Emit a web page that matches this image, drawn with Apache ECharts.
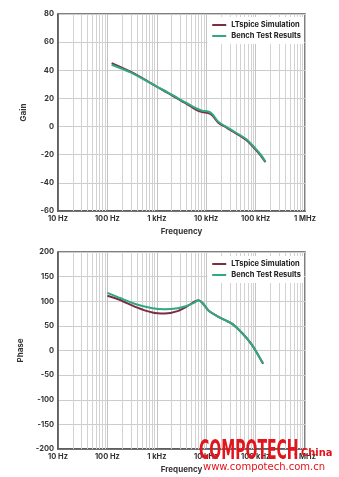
<!DOCTYPE html>
<html>
<head>
<meta charset="utf-8">
<script src="https://cdn.jsdelivr.net/npm/echarts@6/dist/echarts.min.js"></script>
<style>
html,body{margin:0;padding:0;background:#fff;}
#c{width:339px;height:477px;}
</style>
</head>
<body>
<div id="c"></div>
<script>
// ---- data ----
var seriesNames = ['LTspice Simulation', 'Bench Test Results'];
var xTickValues = [10, 100, 1000, 10000, 100000, 1000000];
var xTickLabels = ['10 Hz', '100 Hz', '1 kHz', '10 kHz', '100 kHz', '1 MHz'];

var gainFreq  = [122, 293, 631, 1000, 1660, 2630, 3310, 4170, 6030, 8300, 10960, 13200, 17800, 25900, 36600, 66300, 95700, 126000, 158000];
var gainSim   = [45.1, 39.0, 32.5, 28.3, 24.0, 19.9, 17.8, 15.8, 12.3, 10.3, 9.6, 8.0, 2.6, -0.8, -4.0, -9.8, -15.6, -20.4, -25.3];
var gainBench = [43.9, 38.5, 32.3, 28.4, 24.3, 20.3, 18.3, 16.4, 13.2, 11.3, 10.7, 9.0, 3.2, -0.3, -3.5, -9.2, -15.0, -19.8, -24.8];

var phaseFreq  = [100, 176, 379, 815, 1445, 2630, 4170, 5750, 6920, 8320, 11400, 16000, 24800, 33800, 53800, 83800, 117000, 142000];
var phaseSim   = [111, 103, 88, 77, 75, 80, 90, 99, 102, 97, 80, 71, 61, 54, 35, 12, -12, -27];
var phaseBench = [117, 107, 94, 86, 84, 86, 91, 97, 102, 97, 80, 71, 61, 54, 35, 12, -12, -26];

var gainTicks = {min: -60, max: 80, interval: 20};
var phaseTicks = {min: -200, max: 200, interval: 50};

// ---- styling ----
var colSim = '#7e2c40';
var colBench = '#2ea984';
var font = 'Inter, "Noto Sans", sans-serif';
var txt = '#333';

function pairs(xs, ys){ return xs.map(function(x,i){ return [x, ys[i]]; }); }
function fmtX(v){
  for (var i=0;i<xTickValues.length;i++){ if (Math.abs(v - xTickValues[i]) < 1e-6*xTickValues[i]) return xTickLabels[i]; }
  return '';
}
// minor log gridline positions (2..9 x each decade)
var minorGrid = [];
for (var d=0; d<xTickValues.length-1; d++){
  for (var k=2;k<=9;k++) minorGrid.push({xAxis: xTickValues[d]*k});
}

function xAxisCfg(idx){
  return {
    type:'log', logBase:10, gridIndex: idx, min: xTickValues[0], max: xTickValues[xTickValues.length-1],
    name:'Frequency', nameLocation:'middle', nameGap:17,
    nameTextStyle:{color:txt, fontFamily:font, fontWeight:'bold', fontSize:8},
    axisLine:{show:true, onZero:false, lineStyle:{color:'#555', width:1.5}},
    axisTick:{show:false},
    axisLabel:{color:txt, fontFamily:font, fontWeight:'bold', fontSize:7.5, margin:4, formatter: fmtX, showMinLabel:true, showMaxLabel:true},
    splitLine:{show:true, lineStyle:{color:'#c4c4c4', width:1}}
  };
}
function yAxisCfg(idx, name, t){
  return {
    type:'value', gridIndex: idx, min:t.min, max:t.max, interval:t.interval,
    name:name, nameLocation:'middle', nameGap:30, nameRotate:90,
    nameTextStyle:{color:txt, fontFamily:font, fontWeight:'bold', fontSize:8},
    axisLine:{show:true, onZero:false, lineStyle:{color:'#555', width:1.5}},
    axisTick:{show:false},
    axisLabel:{color:txt, fontFamily:font, fontWeight:'bold', fontSize:7.5, margin:4},
    splitLine:{show:true, lineStyle:{color:'#cccccc', width:1}}
  };
}
function gridSeries(idx){
  return {
    type:'line', xAxisIndex:idx, yAxisIndex:idx, data:[], z:1, silent:true,
    markLine:{z:1, silent:true, symbol:'none', label:{show:false}, animation:false,
      lineStyle:{color:'#d2d2d2', width:1, type:'solid'}, emphasis:{disabled:true}, data: minorGrid}
  };
}
function lineSeries(idx, name, data, color){
  return {
    type:'line', name:name, xAxisIndex:idx, yAxisIndex:idx, data:data, z:3,
    showSymbol:false, smooth:0.3, lineStyle:{color:color, width:2}, itemStyle:{color:color}
  };
}
function legendCfg(top){
  return {
    data: seriesNames, orient:'vertical', right:35, top:top, z:10,
    backgroundColor:'#fff', padding:[4,3,4,5], itemGap:3,
    icon:'rect', itemWidth:14, itemHeight:2,
    textStyle:{color:'#222', fontFamily:font, fontWeight:'bold', fontSize:7.5}
  };
}

var chart = echarts.init(document.getElementById('c'), null, {renderer:'canvas'});
chart.setOption({
  animation:false,
  backgroundColor:'#fff',
  grid:[
    {left:58, top:14, width:247, height:197, show:true, borderColor:'#555', borderWidth:1.5, backgroundColor:'transparent'},
    {left:58, top:252, width:247, height:197, show:true, borderColor:'#555', borderWidth:1.5, backgroundColor:'transparent'}
  ],
  xAxis:[xAxisCfg(0), xAxisCfg(1)],
  yAxis:[yAxisCfg(0,'Gain',gainTicks), yAxisCfg(1,'Phase',phaseTicks)],
  legend:[legendCfg(17), legendCfg(256)],
  series:[
    gridSeries(0), gridSeries(1),
    lineSeries(0, seriesNames[0], pairs(gainFreq, gainSim), colSim),
    lineSeries(0, seriesNames[1], pairs(gainFreq, gainBench), colBench),
    lineSeries(1, seriesNames[0], pairs(phaseFreq, phaseSim), colSim),
    lineSeries(1, seriesNames[1], pairs(phaseFreq, phaseBench), colBench)
  ],
  graphic:[
    {type:'text', x:199, y:439, scaleX:0.6, z:100, style:{text:'COMPOTECH', fill:'#e3141b', font:'bold 26px "DejaVu Sans Condensed", "Liberation Sans Narrow", sans-serif'}},
    {type:'text', x:301, y:448, z:100, style:{text:'China', fill:'#e3141b', font:'bold 11px "DejaVu Sans Condensed", sans-serif'}},
    {type:'text', x:203, y:462, z:100, style:{text:'www.compotech.com.cn', fill:'#e3141b', font:'10px "DejaVu Sans", sans-serif'}}
  ]
});
</script>
</body>
</html>
